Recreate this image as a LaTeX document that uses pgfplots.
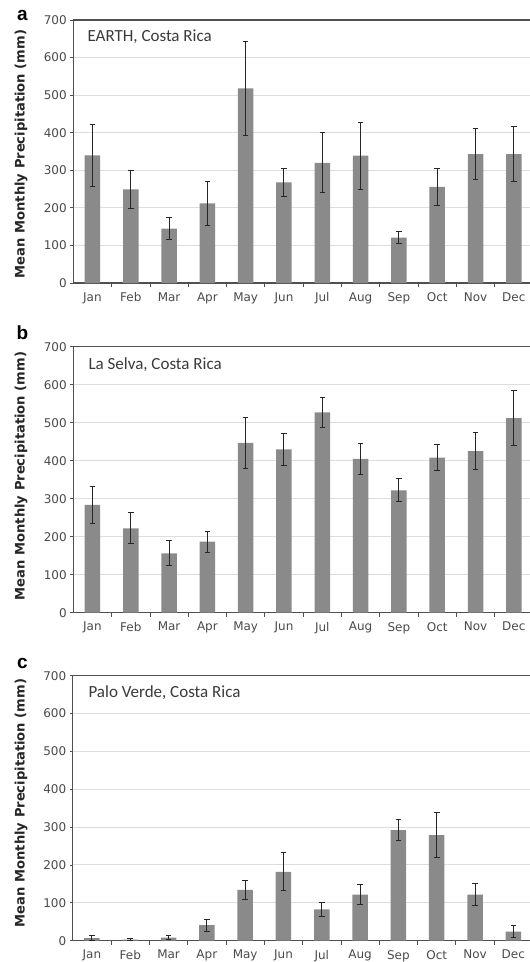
\documentclass[border=0pt]{standalone}
\usepackage{pgfplots}
\pgfplotsset{compat=1.18}
\usepackage{pgfplotstable}
\usepackage{fontspec}
\setmainfont{DejaVu Sans}
\newfontfamily\carlito{Carlito}
\newfontfamily\libsans{Liberation Sans}
\definecolor{barg}{HTML}{8A8A8A}
\definecolor{gridg}{HTML}{DDDDDD}
\definecolor{axg}{HTML}{505050}
\definecolor{txt}{HTML}{3A3A3A}
\definecolor{tick}{HTML}{4A4A4A}

\pgfplotstableread{
x y e
0 340 82
1 249 51
2 145 30
3 212 58
4 518 125
5 268 37
6 320 80
7 339 89
8 121 17
9 256 50
10 343 67
11 343 74
}\tabA
\pgfplotstableread{
x y e
0 284 49
1 222 41
2 156 33
3 187 28
4 447 67
5 430 42
6 527 40
7 405 41
8 322 30
9 408 35
10 425 49
11 512 72
}\tabB
\pgfplotstableread{
x y e
0 7 7
1 3 2
2 8 6
3 41 16
4 134 24
5 182 50
6 83 19
7 122 27
8 292 27
9 279 59
10 122 30
11 24 15
}\tabC

\pgfplotsset{panel/.style={
  scale only axis, width=459.7pt, anchor=south west,
  xmin=-0.5, xmax=11.5, ymin=0, ymax=700,
  ytick={0,100,...,700}, xtick={0,...,11},
  xticklabels={Jan,Feb,Mar,Apr,May,Jun,Jul,Aug,Sep,Oct,Nov,Dec},
  minor x tick num=1, major x tick style={draw=none},
  tick align=outside, xtick pos=left, ytick pos=left,
  ymajorgrids, grid style={gridg, line width=1pt},
  axis line style={axg, line width=1.2pt},
  tick style={axg, line width=0.8pt}, major tick length=3pt, minor tick length=4pt,
  ticklabel style={font=\fontsize{12}{14}\selectfont, text=tick},
  xticklabel style={yshift=-3pt},
  /pgf/number format/assume math mode=true,
  ybar, bar width=15.5pt,
}}
\pgfplotsset{barstyle/.style={fill=barg, draw=none,
  error bars/.cd, y dir=both, y explicit,
  error bar style={black!85, line width=1pt},
  error mark options={rotate=90, black!85, mark size=2.8pt, line width=1pt}}}

\begin{document}
\begin{tikzpicture}
\path[use as bounding box] (0pt,-962pt) rectangle (530pt,0pt);

\begin{axis}[panel, at={(73.3pt,-283pt)}, height=263pt]
\addplot[barstyle] table[x=x,y=y,y error=e]{\tabA};
\end{axis}
\begin{axis}[panel, at={(73.3pt,-612.7pt)}, height=266pt]
\addplot[barstyle] table[x=x,y=y,y error=e]{\tabB};
\end{axis}
\begin{axis}[panel, at={(72.8pt,-940.7pt)}, height=265pt]
\addplot[barstyle] table[x=x,y=y,y error=e]{\tabC};
\end{axis}

\node[anchor=west, font=\carlito\fontsize{17}{19}\selectfont, text=txt] at (84pt,-37pt) {EARTH, Costa Rica};
\node[anchor=west, font=\carlito\fontsize{17}{19}\selectfont, text=txt] at (85pt,-365pt) {La Selva, Costa Rica};
\node[anchor=west, font=\carlito\fontsize{17}{19}\selectfont, text=txt] at (85pt,-692.7pt) {Palo Verde, Costa Rica};

\foreach \yy in {-154,-476,-803}{
  \node[rotate=90, font=\bfseries\fontsize{13.1}{15}\selectfont, text=black!85] at (21pt,\yy pt) {Mean Monthly Precipitation (mm)};
}
\node[font=\libsans\bfseries\fontsize{19}{21}\selectfont] at (22.5pt,-15pt) {a};
\node[font=\libsans\bfseries\fontsize{19}{21}\selectfont] at (22.5pt,-333pt) {b};
\node[font=\libsans\bfseries\fontsize{19}{21}\selectfont] at (22.5pt,-663pt) {c};
\end{tikzpicture}
\end{document}
